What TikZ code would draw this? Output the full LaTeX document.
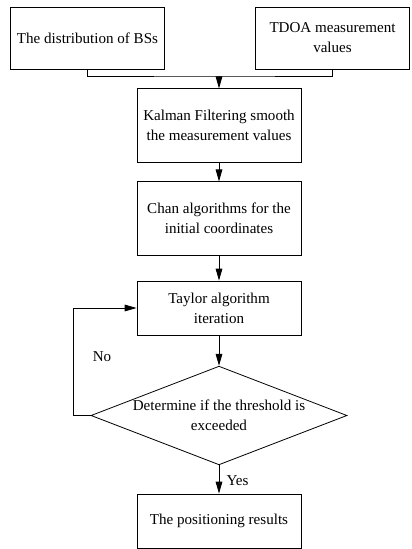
\documentclass[tikz,border=0pt]{standalone}
\usepackage{fontspec}
\setmainfont{Liberation Serif}
\usetikzlibrary{shapes.geometric,arrows.meta}

\begin{document}
\begin{tikzpicture}
	[x=0.75pt,y=-0.75pt,line width=0.6pt,>={Triangle[length=9pt,width=5pt]},
	every node/.style={font=\fontsize{11.3}{15}\selectfont,align=center},
	topbox/.style={draw,minimum width=116pt,minimum height=46.5pt},
	box/.style={draw,minimum width=123pt,minimum height=55pt},
	flatbox/.style={draw,minimum width=123pt,minimum height=40.5pt},
	decision/.style={draw,diamond,shape aspect=2.6,inner sep=0pt,minimum width=192pt,minimum height=74pt}]
	\useasboundingbox (0,0) rectangle (411,549);
	\node[topbox] (bs) at (87.5,38) {The distribution of BSs};
	\node[topbox] (tdoa) at (332.5,38) {TDOA measurement\\values};
	\node[box] (kalman) at (219,125.5) {Kalman Filtering smooth\\the measurement values};
	\node[box] (chan) at (219,218.5) {Chan algorithms for the\\initial coordinates};
	\node[flatbox] (taylor) at (219,308) {Taylor algorithm\\iteration};
	\node[decision] (dec) at (219,415.5) {Determine if the threshold is\\exceeded};
	\node[flatbox] (result) at (219,521) {The positioning results};
	\node (no) at (102,357) {No};
	\node (yes) at (237.5,481) {Yes};
	\coordinate (merge) at (219,76);
	
	\draw (bs.south) |- (merge) -| (tdoa.south);
	\draw[->] (merge) -- (kalman);
	\foreach \from/\to in {kalman/chan,chan/taylor,taylor/dec,dec/result}
	\draw[->] (\from) -- (\to);
	\draw[->] (dec.west) -- ++(-17,0) |- (taylor.west);
	
\end{tikzpicture}
\end{document}
